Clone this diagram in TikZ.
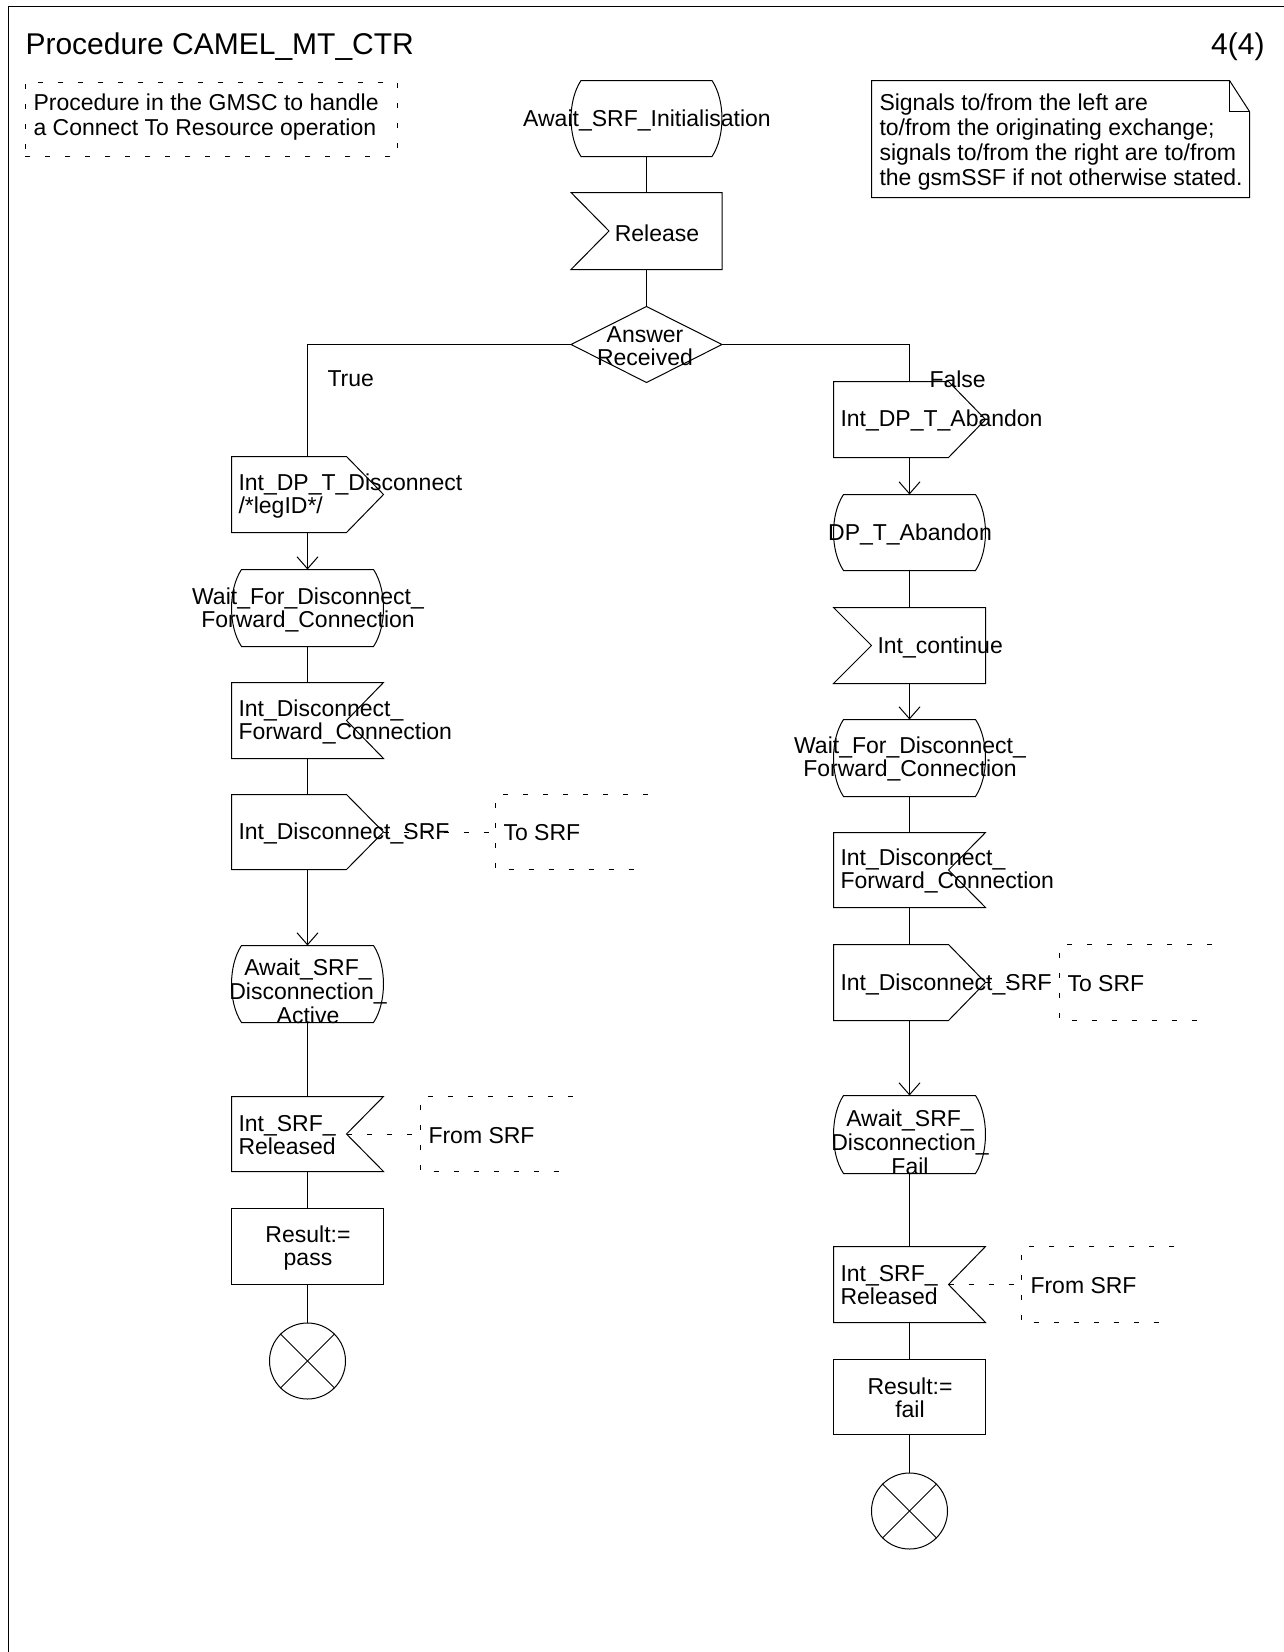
\documentclass[tikz,border=0pt]{standalone}
\usepackage{fontspec}
\setmainfont{Liberation Sans}
\usetikzlibrary{arrows.meta}
\newcommand\sdlout[1]{\draw (#1.north west) -- ([xshift=-37pt]#1.north east) -- (#1.east) -- ([xshift=-37pt]#1.south east) -- (#1.south west) -- cycle;}
\newcommand\sdlinl[1]{\draw (#1.north west) -- (#1.north east) -- (#1.south east) -- (#1.south west) -- ([xshift=38pt]#1.west) -- cycle;}
\newcommand\sdlinr[1]{\draw (#1.north west) -- (#1.north east) -- ([xshift=-37pt]#1.east) -- (#1.south east) -- (#1.south west) -- cycle;}
\newcommand\sdltask[1]{\draw (#1.north west) rectangle (#1.south east);}
\newcommand\sdlstate[1]{\draw ([xshift=10pt]#1.north west) -- ([xshift=-10pt]#1.north east) .. controls ([xshift=3.3pt,yshift=-20pt]#1.north east) and ([xshift=3.3pt,yshift=20pt]#1.south east) .. ([xshift=-10pt]#1.south east) -- ([xshift=10pt]#1.south west) .. controls ([xshift=-3.3pt,yshift=20pt]#1.south west) and ([xshift=-3.3pt,yshift=-20pt]#1.north west) .. ([xshift=10pt]#1.north west) -- cycle;}
\newcommand\sdldiam[1]{\draw (#1.north) -- (#1.east) -- (#1.south) -- (#1.west) -- cycle;}
\newcommand\sdlterm[1]{\draw (#1.north west) -- (#1.south east); \draw (#1.north east) -- (#1.south west);}
\newcommand\sdlbracket[1]{\draw[dsh] (#1.north east) -- (#1.north west) -- (#1.south west) -- ([xshift=-10pt]#1.south east);}
\tikzset{
  box/.style={draw=none, inner sep=0pt, minimum width=151pt, minimum height=75pt},
  txt/.style={inner sep=0pt, font=\fontsize{23}{23.5}\selectfont, align=left, yshift=-2pt},
  ctxt/.style={txt, align=center},
  arr/.style={-{Straight Barb[length=12pt,width=21pt]}},
  dsh/.style={dash pattern=on 5pt off 15pt, line width=0.8pt},
  term/.style={draw, circle, minimum size=76pt, inner sep=0pt},
}
\begin{document}
\begin{tikzpicture}[x=1pt,y=-1pt,line width=1pt]
\useasboundingbox (0,0) rectangle (1284,1652);
% frame
\draw (8,1652) -- (8,6) -- (1284,6);
\node[inner sep=0pt, anchor=base west, font=\fontsize{30}{32}\selectfont] (title) at (25,54) {Procedure CAMEL\_MT\_CTR};
\node[inner sep=0pt, anchor=base east, font=\fontsize{30}{32}\selectfont] (page) at (1265,54) {4(4)};
% top-left comment
\node[draw, dsh, inner sep=0pt, minimum width=372pt, minimum height=74pt] (cm) at (211,119) {};
\node[txt, anchor=west, font=\fontsize{23}{24.5}\selectfont] (cmt) at (33,115) {Procedure in the GMSC to handle\\a Connect To Resource operation};
% note
\node[box, minimum width=377pt, minimum height=116pt] (nt) at (1060.5,139) {};
\draw (nt.south west) -- (nt.north west) -- ([xshift=-20pt]nt.north east) -- ([yshift=-31pt]nt.north east) -- (nt.south east) -- cycle;
\draw ([xshift=-20pt]nt.north east) -- ([xshift=-20pt,yshift=-31pt]nt.north east) -- ([yshift=-31pt]nt.north east);
\node[txt, anchor=west, font=\fontsize{23}{24.7}\selectfont] (ntt) at (879,140) {Signals to/from the left are\\to/from the originating exchange;\\signals to/from the right are to/from\\the gsmSSF if not otherwise stated.};
% top column
\node[box, minimum width=150pt] (s0) at (646.5,118.5) {}; \sdlstate{s0}
\node[ctxt] (s0t) at (647,118) {Await\_SRF\_Initialisation};
\node[box, minimum width=150pt, minimum height=76pt] (r0) at (646.5,231) {}; \sdlinl{r0}
\node[ctxt] (r0t) at (657,231) {Release};
\node[box, minimum width=150pt] (d0) at (646.5,344.5) {}; \sdldiam{d0}
\node[ctxt] (d0t) at (645,344) {Answer\\Received};
\draw (s0) -- (r0);
\draw (r0) -- (d0);
\node[txt, anchor=west] (lt) at (327,377) {True};
\node[txt, anchor=west] (lf) at (929,377) {False};
% left column
\node[box] (l1) at (307.5,494.5) {}; \sdlout{l1}
\node[txt, anchor=west] (l1t) at (238,494) {Int\_DP\_T\_Disconnect\\/*legID*/};
\node[box, minimum height=76pt] (l2) at (307.5,608) {}; \sdlstate{l2}
\node[ctxt] (l2t) at (308,608) {Wait\_For\_Disconnect\_\\Forward\_Connection};
\node[box] (l3) at (307.5,720.5) {}; \sdlinr{l3}
\node[txt, anchor=west] (l3t) at (238,720) {Int\_Disconnect\_\\Forward\_Connection};
\node[box, minimum height=74pt] (l4) at (307.5,832) {}; \sdlout{l4}
\node[txt, anchor=west] (l4t) at (238,831) {Int\_Disconnect\_SRF};
\node[box, minimum height=74pt] (c4) at (571.5,832) {}; \sdlbracket{c4}
\node[txt, anchor=west] (c4t) at (503,831) {To SRF};
\node[box, minimum height=76pt] (l5) at (307.5,984) {}; \sdlstate{l5}
\node[ctxt, font=\fontsize{23}{24}\selectfont] (l5t) at (308,989) {Await\_SRF\_\\Disconnection\_\\Active};
\node[box, minimum height=74pt] (l6) at (307.5,1134) {}; \sdlinr{l6}
\node[txt, anchor=west] (l6t) at (238,1133) {Int\_SRF\_\\Released};
\node[box, minimum height=74pt] (c6) at (496.5,1134) {}; \sdlbracket{c6}
\node[txt, anchor=west] (c6t) at (428,1134) {From SRF};
\node[box] (l7) at (307.5,1246.5) {}; \sdltask{l7}
\node[ctxt] (l7t) at (308,1246) {Result:=\\pass};
\node[term] (l8) at (307.5,1361) {}; \sdlterm{l8}
\draw (d0.west) -| (l1);
\draw[arr] (l1) -- (l2);
\draw (l2) -- (l3);
\draw (l3) -- (l4);
\draw[dsh] (l4.east) -- (c4.west);
\draw[arr] (l4) -- (l5);
\draw (l5) -- (l6);
\draw[dsh] ([xshift=-37pt]l6.east) -- (c6.west);
\draw (l6) -- (l7);
\draw (l7) -- (l8);
% right column
\node[box] (r1) at (909.5,419.5) {}; \sdlout{r1}
\node[txt, anchor=west] (r1t) at (840,418) {Int\_DP\_T\_Abandon};
\node[box] (r2) at (909.5,532.5) {}; \sdlstate{r2}
\node[ctxt] (r2t) at (910,532) {DP\_T\_Abandon};
\node[box] (r3) at (909.5,645.5) {}; \sdlinl{r3}
\node[txt, anchor=west] (r3t) at (877,645) {Int\_continue};
\node[box, minimum height=76pt] (r4) at (909.5,758) {}; \sdlstate{r4}
\node[ctxt] (r4t) at (910,757) {Wait\_For\_Disconnect\_\\Forward\_Connection};
\node[box, minimum height=74pt] (r5) at (909.5,870) {}; \sdlinr{r5}
\node[txt, anchor=west] (r5t) at (840,869) {Int\_Disconnect\_\\Forward\_Connection};
\node[box] (r6) at (909.5,982.5) {}; \sdlout{r6}
\node[txt, anchor=west] (r6t) at (840,982) {Int\_Disconnect\_SRF};
\node[box] (c6r) at (1135.5,982.5) {}; \sdlbracket{c6r}
\node[txt, anchor=west] (c6rt) at (1067,982) {To SRF};
\node[box, minimum height=77pt] (r7) at (909.5,1134.5) {}; \sdlstate{r7}
\node[ctxt, font=\fontsize{23}{24}\selectfont] (r7t) at (910,1140) {Await\_SRF\_\\Disconnection\_\\Fail};
\node[box] (r8) at (909.5,1284.5) {}; \sdlinr{r8}
\node[txt, anchor=west] (r8t) at (840,1283) {Int\_SRF\_\\Released};
\node[box] (c8r) at (1097.5,1284.5) {}; \sdlbracket{c8r}
\node[txt, anchor=west] (c8rt) at (1030,1284) {From SRF};
\node[box, minimum height=74pt] (r9) at (909.5,1397) {}; \sdltask{r9}
\node[ctxt] (r9t) at (910,1396) {Result:=\\fail};
\node[term] (r10) at (909.5,1511) {}; \sdlterm{r10}
\draw (d0.east) -| (r1);
\draw[arr] (r1) -- (r2);
\draw (r2) -- (r3);
\draw[arr] (r3) -- (r4);
\draw (r4) -- (r5);
\draw (r5) -- (r6);
\draw[dsh] (r6.east) -- (c6r.west);
\draw[arr] (r6) -- (r7);
\draw (r7) -- (r8);
\draw[dsh] ([xshift=-37pt]r8.east) -- (c8r.west);
\draw (r8) -- (r9);
\draw (r9) -- (r10);
\end{tikzpicture}
\end{document}
